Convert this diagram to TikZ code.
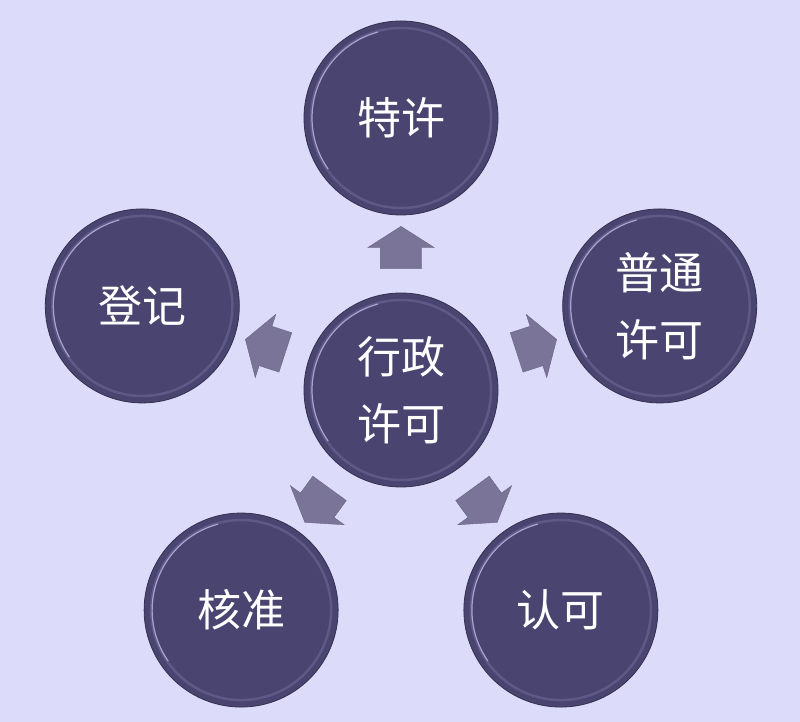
\documentclass[tikz,border=0pt]{standalone}
\usepackage{fontspec}
\newfontfamily\cjk{Noto Sans CJK SC}
\usetikzlibrary{calc,shapes.arrows}

\definecolor{bgcol}{HTML}{DCDCFA}
\definecolor{ballcol}{HTML}{4A4470}
\definecolor{balledge}{HTML}{35304F}
\definecolor{rimcol}{HTML}{5F5988}
\definecolor{rimhi}{HTML}{A9A3CF}
\definecolor{arrowcol}{HTML}{7A7498}

\tikzset{
  ball/.style={circle, minimum size=194, inner sep=0, fill=ballcol, draw=balledge,
    line width=0.8, text=white, align=center, font=\cjk\fontsize{44}{67}\selectfont,
    path picture={
      \draw[rimcol, line width=2.5] (path picture bounding box.center) circle (90);
      \draw[rimhi, line width=1.2] ($(path picture bounding box.center)+(105:89)$) arc (105:215:89);
    }},
  blockarrow/.style={single arrow, fill=arrowcol, draw=arrowcol!85!black, line width=0.4,
    inner xsep=0, inner ysep=20.5, minimum height=42, single arrow head extend=12.5,
    single arrow tip angle=115}
}

\begin{document}
\begin{tikzpicture}[x=1pt,y=1pt]

    \path[use as bounding box, fill=bgcol] (0,0) rectangle (800,722);

    \node[ball] at (401,332) (hub) {行政\\许可};
    \node[ball] at ($(hub)+(90:272)$) (texu) {特许};
    \node[ball] at ($(hub)+(18:272)$) (putong) {普通\\许可};
    \node[ball] at ($(hub)+(-54:272)$) (renke) {认可};
    \node[ball] at ($(hub)+(-126:272)$) (hezhun) {核准};
    \node[ball] at ($(hub)+(162:272)$) (dengji) {登记};

    \node[blockarrow, rotate=90] at ($(hub)!0.5!(texu)$) (arrtexu) {};
    \node[blockarrow, rotate=18] at ($(hub)!0.5!(putong)$) (arrputong) {};
    \node[blockarrow, rotate=-54] at ($(hub)!0.5!(renke)$) (arrrenke) {};
    \node[blockarrow, rotate=-126] at ($(hub)!0.5!(hezhun)$) (arrhezhun) {};
    \node[blockarrow, rotate=162] at ($(hub)!0.5!(dengji)$) (arrdengji) {};

\end{tikzpicture}
\end{document}
